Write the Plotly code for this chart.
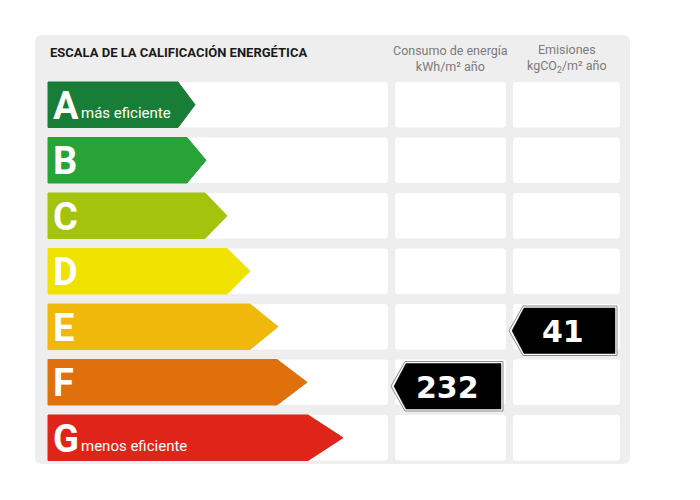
import plotly.graph_objects as go

# ---- data ----
ratings = ["A", "B", "C", "D", "E", "F", "G"]
captions = ["más eficiente", "", "", "", "", "", "menos eficiente"]
band_colors = ["#177d37", "#27a338", "#a3c30c", "#f0e200", "#f0b80b", "#df700c", "#df2419"]
band_length = [130, 139, 157, 179, 202, 229, 260]   # straight part of each arrow
tip_length = [17, 19, 22, 23, 28, 30, 35]           # pointed part of each arrow
header_title = "ESCALA DE LA CALIFICACIÓN ENERGÉTICA"
col_headers = ["Consumo de energía<br>kWh/m² año", "Emisiones<br>kgCO<sub>2</sub>/m² año"]
energy_value = 232
energy_rating = "F"
emission_value = 41
emission_rating = "E"

# ---- layout helpers (pixel coordinate system) ----
X0 = 48
ROW0 = 82
ROW_STEP = 55.5
ROW_H = 45.5
COL_CELLS = [(395, 506), (513, 620)]
ROW_WHITE_END = 388
NARROW = "Roboto, Liberation Sans, Arial"

fig = go.Figure()
shapes = []


def rpath(x0, y0, x1, y1, r):
    return (f"M{x0+r},{y0} L{x1-r},{y0} Q{x1},{y0} {x1},{y0+r} L{x1},{y1-r} Q{x1},{y1} {x1-r},{y1} "
            f"L{x0+r},{y1} Q{x0},{y1} {x0},{y1-r} L{x0},{y0+r} Q{x0},{y0} {x0+r},{y0} Z")


# panel
shapes.append(dict(type="path", path=rpath(35, 35, 630, 464, 7), fillcolor="#eeeeee",
                   line=dict(width=0), layer="below", xref="x", yref="y"))

for i, r in enumerate(ratings):
    top = ROW0 + i * ROW_STEP
    bot = top + ROW_H
    mid = (top + bot) / 2
    # white row strip & cells
    shapes.append(dict(type="path", path=rpath(X0 + 20, top, ROW_WHITE_END, bot, 3), fillcolor="white",
                       line=dict(width=0), layer="below", xref="x", yref="y"))
    for (c0, c1) in COL_CELLS:
        shapes.append(dict(type="path", path=rpath(c0, top, c1, bot, 3), fillcolor="white",
                           line=dict(width=0), layer="below", xref="x", yref="y"))
    be = X0 + band_length[i]
    tip = be + tip_length[i]
    fig.add_trace(go.Scatter(
        x=[X0, be, tip, be, X0, X0], y=[top, top, mid, bot, bot, top],
        mode="lines", fill="toself", fillcolor=band_colors[i],
        line=dict(color=band_colors[i], width=1), hoverinfo="skip", showlegend=False))
    fig.add_annotation(x=X0 + 3, y=mid + 1, text=f"<b>{r}</b>", showarrow=False,
                       xanchor="left", yanchor="middle",
                       font=dict(family=NARROW, size=38, color="white"))
    if captions[i]:
        fig.add_annotation(x=X0 + 31, y=mid + 8, text=captions[i], showarrow=False,
                           xanchor="left", yanchor="middle",
                           font=dict(family=NARROW, size=15, color="white"))


def value_arrow(col, rating, value):
    i = ratings.index(rating)
    top = ROW0 + i * ROW_STEP + 2
    bot = top + ROW_H + 4
    mid = (top + bot) / 2
    c0, c1 = COL_CELLS[col]
    left_tip = c0 - 4
    body_left = left_tip + 14
    right = c1 - 3
    # outer outline
    fig.add_trace(go.Scatter(
        x=[body_left, right, right, body_left, left_tip, body_left],
        y=[top, top, bot, bot, mid, top],
        mode="lines", fill="toself", fillcolor="white",
        line=dict(color="#8a8a8a", width=1), hoverinfo="skip", showlegend=False))
    fig.add_trace(go.Scatter(
        x=[body_left + 1, right - 2, right - 2, body_left + 1, left_tip + 3, body_left + 1],
        y=[top + 2, top + 2, bot - 2, bot - 2, mid, top + 2],
        mode="lines", fill="toself", fillcolor="black",
        line=dict(color="black", width=0.5), hoverinfo="skip", showlegend=False))
    fig.add_annotation(x=(left_tip + right) / 2, y=mid + 1, text=f"<b>{value}</b>", showarrow=False,
                       xanchor="center", yanchor="middle",
                       font=dict(family="DejaVu Sans", size=30, color="white"))


value_arrow(0, energy_rating, energy_value)
value_arrow(1, emission_rating, emission_value)

fig.add_annotation(x=X0, y=52, text=f"<b>{header_title}</b>", showarrow=False,
                   xanchor="left", yanchor="middle",
                   font=dict(family=NARROW, size=13, color="#1a1a1a"))
for (c0, c1), h in zip(COL_CELLS, col_headers):
    fig.add_annotation(x=(c0 + c1) / 2, y=58, text=h, showarrow=False,
                       xanchor="center", yanchor="middle", align="center",
                       font=dict(family=NARROW, size=12.5, color="#7a7a7a"))

fig.update_layout(
    width=700, height=500, margin=dict(l=0, r=0, t=0, b=0),
    paper_bgcolor="white", plot_bgcolor="white", shapes=shapes,
    xaxis=dict(range=[0, 700], visible=False, fixedrange=True),
    yaxis=dict(range=[500, 0], visible=False, fixedrange=True),
)
fig.write_html("out.html")
